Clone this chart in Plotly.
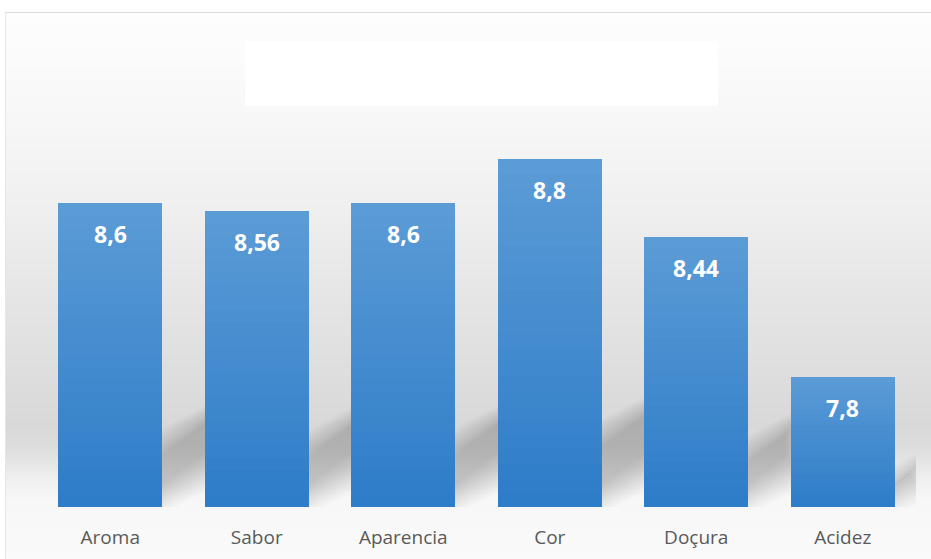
import plotly.graph_objects as go

# ---- data ----
categories = ["Aroma", "Sabor", "Aparencia", "Cor", "Doçura", "Acidez"]
values = [8.6, 8.56, 8.6, 8.8, 8.44, 7.8]
value_labels = ["8,6", "8,56", "8,6", "8,8", "8,44", "7,8"]

# ---- layout geometry ----
W, H = 931, 559
ML, MR, MT, MB = 37, 15, 72, 52
Y0, Y1 = 7.2, 9.2
X0, X1 = -0.5, 5.5
BAR_W = 0.71
PW = W - ML - MR
PH = H - MT - MB
PX_X = PW / (X1 - X0)
PX_Y = PH / (Y1 - Y0)


def py2paper(py):
    return (H - MB - py) / PH


def px2paper(px):
    return (px - ML) / PW


xs = list(range(len(categories)))
fig = go.Figure()

# bars with vertical gradient (stacked bands, per bar)
N = 24
top_rgb = (92, 156, 214)
bot_rgb = (45, 124, 200)
for j in range(N):
    f = (j + 0.5) / N
    c = tuple(round(b + (t - b) * f) for t, b in zip(top_rgb, bot_rgb))
    fig.add_trace(go.Bar(
        x=xs,
        y=[(v - Y0) / N for v in values],
        base=[Y0 + (v - Y0) * j / N for v in values],
        width=BAR_W,
        marker=dict(color="rgb(%d,%d,%d)" % c, line=dict(width=0)),
        hoverinfo="skip", showlegend=False,
    ))

shapes = []
# background gradient
stops = [(12, 253), (60, 251), (120, 247), (200, 240), (300, 229), (400, 219),
         (425, 216), (450, 222), (475, 237), (500, 247), (559, 250)]


def gray_at(py):
    for (a, ga), (b, gb) in zip(stops[:-1], stops[1:]):
        if a <= py <= b:
            return ga + (gb - ga) * (py - a) / (b - a)
    return stops[-1][1]


step = 3
py = 13
while py < H:
    g = round(gray_at(py + step / 2))
    shapes.append(dict(type="rect", xref="paper", yref="paper", layer="below",
                       x0=px2paper(6), x1=px2paper(W + 2),
                       y0=py2paper(py), y1=py2paper(min(py + step, H + 2)),
                       fillcolor="rgb(%d,%d,%d)" % (g, g, g), line=dict(width=0)))
    py += step

# frame lines
shapes.append(dict(type="line", xref="paper", yref="paper", layer="below",
                   x0=px2paper(5), x1=px2paper(W + 2), y0=py2paper(12.5), y1=py2paper(12.5),
                   line=dict(color="#d9d9d9", width=1)))
shapes.append(dict(type="line", xref="paper", yref="paper", layer="below",
                   x0=px2paper(5.5), x1=px2paper(5.5), y0=py2paper(12), y1=py2paper(H + 2),
                   line=dict(color="#e6e6e6", width=1)))
# title placeholder box
shapes.append(dict(type="rect", xref="paper", yref="paper", layer="below",
                   x0=px2paper(245), x1=px2paper(718), y0=py2paper(106), y1=py2paper(41),
                   fillcolor="#ffffff", line=dict(width=0)))

# soft perspective shadows behind bars
s = 0.6
for i, v in enumerate(values):
    h = (v - Y0) * PX_Y
    T = 0.2 * h
    e = 0.18 * h
    R = i + BAR_W / 2
    for d in range(-12, 18, 3):
        pts = [(-10, d), (e - d * 0.7, s * (e + 10) + d), (e - d * 0.7, s * (e + 10) + T - d), (-10, T - d)]
        path = "M " + " L ".join("%f,%f" % (R + dx / PX_X, Y0 + dy / PX_Y) for dx, dy in pts) + " Z"
        shapes.append(dict(type="path", xref="x", yref="y", layer="below", path=path,
                           fillcolor="rgba(0,0,0,0.02)", line=dict(width=0)))

annotations = []
for i, (v, lab) in enumerate(zip(values, value_labels)):
    annotations.append(dict(x=i, y=v, xref="x", yref="y", text=lab, showarrow=False,
                            yanchor="middle", yshift=-31,
                            font=dict(family="Open Sans", size=23, color="white", weight="bold")))

fig.update_layout(
    width=W, height=H,
    margin=dict(l=ML, r=MR, t=MT, b=MB, autoexpand=False),
    paper_bgcolor="white", plot_bgcolor="rgba(0,0,0,0)",
    barmode="overlay", bargap=0,
    shapes=shapes, annotations=annotations,
    showlegend=False,
    xaxis=dict(range=[X0, X1], tickvals=xs, ticktext=categories, showgrid=False,
               zeroline=False, showline=False, ticks="", ticklabelstandoff=17,
               automargin=False,
               tickfont=dict(family="Open Sans", size=19, color="#595959"), fixedrange=True),
    yaxis=dict(range=[Y0, Y1], visible=False, showgrid=False, zeroline=False,
               automargin=False, fixedrange=True),
)

fig.write_html("out.html",
               config={"displayModeBar": False},
               post_script="document.body.style.margin='0';document.body.style.overflow='hidden';")
